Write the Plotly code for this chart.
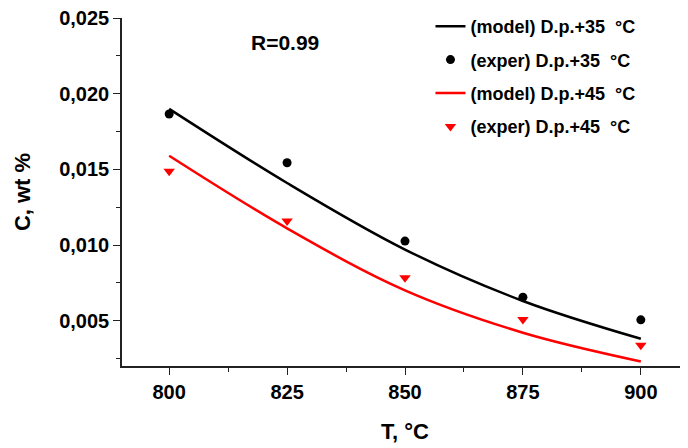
import plotly.graph_objects as go

T = [800, 825, 850, 875, 900]

# model curves
model_35 = [0.0190, 0.0141, 0.0097, 0.0063, 0.0038]
model_45 = [0.0159, 0.0111, 0.0070, 0.0042, 0.0023]

# experimental points
exper_35 = [0.01866, 0.01544, 0.01026, 0.00655, 0.00505]
exper_45 = [0.01487, 0.01158, 0.00783, 0.00507, 0.00337]

y_ticks = [0.005, 0.010, 0.015, 0.020, 0.025]
y_labels = ["0,005", "0,010", "0,015", "0,020", "0,025"]
x_ticks = [800, 825, 850, 875, 900]

NBSP = "\u00a0"
FONT = "Liberation Sans, Arial, sans-serif"

fig = go.Figure()
fig.add_trace(go.Scatter(
    x=T, y=model_35, mode="lines", line=dict(color="black", width=2.5, shape="spline"),
    name=f"(model) D.p.+35 {NBSP}°C", legendgroup="a",
))
fig.add_trace(go.Scatter(
    x=T, y=exper_35, mode="markers", marker=dict(color="black", size=9, symbol="circle"),
    name=f"(exper) D.p.+35 {NBSP}°C", legendgroup="b",
))
fig.add_trace(go.Scatter(
    x=T, y=model_45, mode="lines", line=dict(color="#ff0000", width=2.5, shape="spline"),
    name=f"(model) D.p.+45 {NBSP}°C", legendgroup="c",
))
fig.add_trace(go.Scatter(
    x=T, y=exper_45, mode="markers", marker=dict(color="#ff0000", size=10, symbol="triangle-down"),
    name=f"(exper) D.p.+45 {NBSP}°C", legendgroup="d",
))

axis_common = dict(
    showline=True, linecolor="#222", linewidth=1.5, showgrid=False, zeroline=False,
    ticks="outside", ticklen=7, tickwidth=1.3, tickcolor="#222", automargin=False,
    ticklabeloverflow="allow",
    tickfont=dict(size=20, family=FONT, color="black", weight="bold"),
    title_font=dict(size=22, family=FONT, color="black", weight="bold"),
)

fig.update_xaxes(
    range=[790, 910], tickvals=x_ticks, title_text="T, °C",
    minor=dict(ticks="outside", ticklen=4, dtick=12.5, tick0=800, tickcolor="#222"),
    title_standoff=22, **axis_common,
)
# tiny headroom so the 0,025 tick is not dropped by rounding
fig.update_yaxes(
    range=[0.002, 0.02501], tickvals=y_ticks, ticktext=y_labels,
    title_text="C, wt %", title_standoff=22,
    minor=dict(ticks="outside", ticklen=4, dtick=0.0025, tick0=0.0025, tickcolor="#222"),
    **axis_common,
)

fig.add_annotation(
    x=0.225, y=0.969, xref="paper", yref="paper", text="R=0.99",
    showarrow=False, font=dict(size=21, family=FONT, color="black", weight="bold"),
)

# page body has an 8px margin, so the figure is a little smaller
fig.update_layout(
    width=680, height=440,
    margin=dict(l=114, r=0, t=9, b=82),
    plot_bgcolor="white", paper_bgcolor="white",
    font=dict(family=FONT, color="black"),
    legend=dict(
        x=0.545, y=1.029, xanchor="left", yanchor="top",
        font=dict(size=18, family=FONT, color="black", weight="bold"),
        bgcolor="rgba(0,0,0,0)", tracegroupgap=7, itemwidth=30,
    ),
)

fig.write_html("out.html")
